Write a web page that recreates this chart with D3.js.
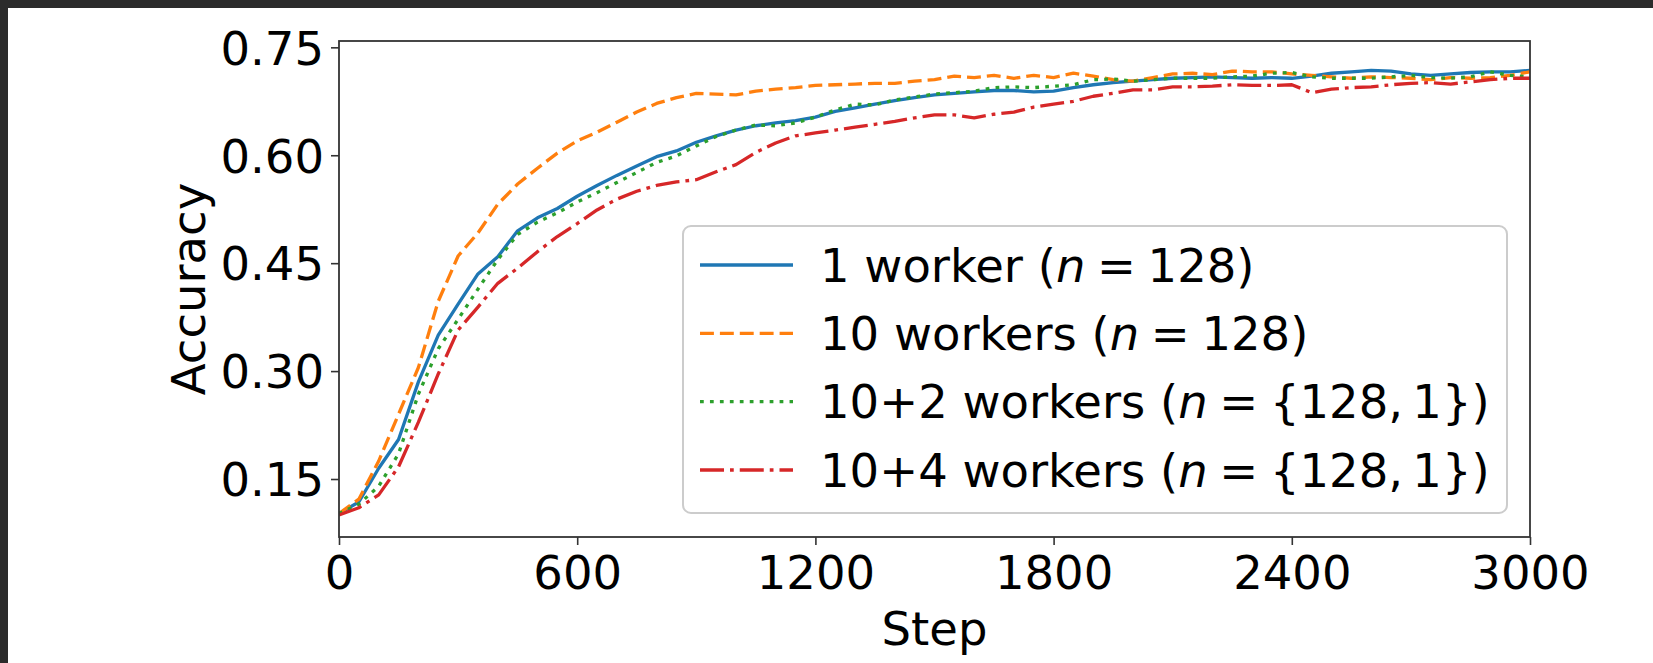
<!DOCTYPE html>
<html lang="en">
<head>
    <meta charset="UTF-8">
    <title>Accuracy vs Step</title>
    <script src="https://d3js.org/d3.v7.min.js"></script>
    <style>
        html, body { margin: 0; padding: 0; background: white; }
        svg text { font-family: "DejaVu Sans", sans-serif; fill: #000; }
        .axis .domain { stroke: none; }
        .axis line { stroke: #333; stroke-width: 1.6; }
    </style>
</head>
<body>
    <svg id="chart" width="1653" height="663"></svg>

    <script>
        // data ---------------------------------------------------------------
        const steps = [0, 50, 100, 150, 200, 250, 300, 350, 400, 450, 500, 550, 600, 650, 700, 750,
            800, 850, 900, 950, 1000, 1050, 1100, 1150, 1200, 1250, 1300, 1350, 1400, 1450, 1500,
            1550, 1600, 1650, 1700, 1750, 1800, 1850, 1900, 1950, 2000, 2050, 2100, 2150, 2200,
            2250, 2300, 2350, 2400, 2450, 2500, 2550, 2600, 2650, 2700, 2750, 2800, 2850, 2900,
            2950, 3000];

        const oneWorker = [0.102, 0.118, 0.165, 0.205, 0.285, 0.350, 0.393, 0.435, 0.459, 0.495,
            0.513, 0.526, 0.543, 0.558, 0.572, 0.585, 0.598, 0.606, 0.618, 0.627, 0.635, 0.641,
            0.645, 0.648, 0.653, 0.661, 0.666, 0.671, 0.676, 0.680, 0.684, 0.686, 0.688, 0.690,
            0.690, 0.688, 0.689, 0.694, 0.698, 0.701, 0.703, 0.705, 0.707, 0.708, 0.709, 0.708,
            0.707, 0.708, 0.707, 0.710, 0.714, 0.716, 0.718, 0.717, 0.713, 0.711, 0.713, 0.715,
            0.716, 0.716, 0.718];

        const tenWorkers = [0.102, 0.122, 0.175, 0.240, 0.305, 0.397, 0.460, 0.492, 0.532, 0.560,
            0.582, 0.603, 0.620, 0.632, 0.646, 0.660, 0.672, 0.680, 0.686, 0.685, 0.684, 0.689,
            0.692, 0.694, 0.697, 0.698, 0.699, 0.700, 0.700, 0.703, 0.705, 0.710, 0.708, 0.711,
            0.707, 0.711, 0.708, 0.714, 0.710, 0.705, 0.703, 0.708, 0.713, 0.714, 0.712, 0.717,
            0.716, 0.716, 0.713, 0.711, 0.709, 0.707, 0.709, 0.708, 0.707, 0.705, 0.708, 0.707,
            0.708, 0.711, 0.716];

        const tenPlusTwo = [0.102, 0.115, 0.140, 0.185, 0.268, 0.331, 0.372, 0.414, 0.455, 0.490,
            0.507, 0.520, 0.535, 0.548, 0.562, 0.576, 0.590, 0.599, 0.613, 0.626, 0.635, 0.642,
            0.641, 0.645, 0.653, 0.663, 0.671, 0.670, 0.677, 0.681, 0.685, 0.687, 0.689, 0.694,
            0.695, 0.694, 0.696, 0.698, 0.705, 0.706, 0.703, 0.705, 0.707, 0.707, 0.707, 0.709,
            0.710, 0.714, 0.715, 0.709, 0.707, 0.707, 0.707, 0.709, 0.711, 0.708, 0.707, 0.709,
            0.716, 0.711, 0.709];

        const tenPlusFour = [0.100, 0.110, 0.128, 0.167, 0.229, 0.296, 0.357, 0.389, 0.422, 0.443,
            0.466, 0.487, 0.505, 0.524, 0.539, 0.550, 0.558, 0.563, 0.566, 0.577, 0.587, 0.604,
            0.617, 0.627, 0.631, 0.635, 0.639, 0.643, 0.647, 0.652, 0.656, 0.656, 0.652, 0.657,
            0.660, 0.667, 0.671, 0.675, 0.682, 0.686, 0.691, 0.691, 0.695, 0.695, 0.696, 0.698,
            0.697, 0.697, 0.698, 0.687, 0.692, 0.694, 0.695, 0.698, 0.700, 0.701, 0.699, 0.702,
            0.705, 0.707, 0.707];

        const seriesLabels = ["1 worker (n\u2005=\u2005128)", "10 workers (n\u2005=\u2005128)",
            "10+2 workers (n\u2005=\u2005{128,\u20091})", "10+4 workers (n\u2005=\u2005{128,\u20091})"];

        const xTicks = [0, 600, 1200, 1800, 2400, 3000];
        const yTicks = [0.15, 0.30, 0.45, 0.60, 0.75];

        // look of each series ------------------------------------------------
        const colors = ["#1f77b4", "#ff7f0e", "#2ca02c", "#d62728"];
        const dashes = ["none", "13.9,6", "3.75,6.2", "24,6,3.75,6"];
        const allSeries = [oneWorker, tenWorkers, tenPlusTwo, tenPlusFour];

        // svg configuration ---------------------------------------------------
        const svg = d3.select("svg#chart");
        const width = +svg.attr("width");
        const height = +svg.attr("height");
        const plot = {left: 339, right: 1530, top: 41, bottom: 537};

        // dark frame of the screenshot
        svg.append("rect").attr("width", width).attr("height", height).attr("fill", "#2b2b2b");
        svg.append("rect").attr("x", 8).attr("y", 8)
            .attr("width", width - 8).attr("height", height - 8).attr("fill", "white");

        const xScale = d3.scaleLinear().domain([0, 3000]).range([plot.left, plot.right]);
        const yScale = d3.scaleLinear().domain([0.0694, 0.7588]).range([plot.bottom, plot.top]);

        // axes ---------------------------------------------------------------
        const fontSize = 46.5;

        svg.append("g")
            .attr("class", "axis")
            .attr("transform", `translate(${plot.left},0)`)
            .call(d3.axisLeft(yScale).tickValues(yTicks).tickFormat(d3.format(".2f"))
                .tickSize(8).tickPadding(7))
            .call(g => g.selectAll("text").attr("font-size", fontSize).attr("dy", "0.36em")
                .attr("font-family", "DejaVu Sans").attr("fill", "#000"));

        svg.append("g")
            .attr("class", "axis")
            .attr("transform", `translate(0,${plot.bottom})`)
            .call(d3.axisBottom(xScale).tickValues(xTicks).tickFormat(d3.format("d"))
                .tickSize(8).tickPadding(11))
            .call(g => g.selectAll("text").attr("font-size", fontSize)
                .attr("font-family", "DejaVu Sans").attr("fill", "#000"));

        svg.append("text")
            .attr("transform", `translate(205,${(plot.top + plot.bottom) / 2}) rotate(-90)`)
            .attr("text-anchor", "middle")
            .attr("font-size", fontSize)
            .text("Accuracy");

        svg.append("text")
            .attr("x", (plot.left + plot.right) / 2)
            .attr("y", 645)
            .attr("text-anchor", "middle")
            .attr("font-size", fontSize)
            .text("Step");

        // lines --------------------------------------------------------------
        svg.append("clipPath").attr("id", "clip")
            .append("rect")
            .attr("x", plot.left).attr("y", plot.top)
            .attr("width", plot.right - plot.left).attr("height", plot.bottom - plot.top);

        const lineGen = d3.line()
            .x((d, i) => xScale(steps[i]))
            .y(d => yScale(d));

        svg.append("g")
            .attr("clip-path", "url(#clip)")
            .selectAll("path")
            .data(allSeries)
            .join("path")
            .attr("fill", "none")
            .attr("stroke", (d, i) => colors[i])
            .attr("stroke-width", 3.3)
            .attr("stroke-dasharray", (d, i) => dashes[i])
            .attr("stroke-linejoin", "round")
            .attr("d", d => lineGen(d));

        // frame (spines)
        svg.append("rect")
            .attr("x", plot.left).attr("y", plot.top)
            .attr("width", plot.right - plot.left).attr("height", plot.bottom - plot.top)
            .attr("fill", "none")
            .attr("stroke", "#333")
            .attr("stroke-width", 1.8);

        // legend -------------------------------------------------------------
        const legend = svg.append("g").attr("class", "legend");
        legend.append("rect")
            .attr("x", 683).attr("y", 226)
            .attr("width", 1507 - 683).attr("height", 513 - 226)
            .attr("rx", 8).attr("ry", 8)
            .attr("fill", "white").attr("fill-opacity", 0.8)
            .attr("stroke", "#cccccc").attr("stroke-width", 2);

        const rowY = d3.scalePoint().domain(d3.range(seriesLabels.length)).range([265, 470]);

        const rows = legend.selectAll("g.row")
            .data(seriesLabels)
            .join("g")
            .attr("class", "row")
            .attr("transform", (d, i) => `translate(0,${rowY(i)})`);

        rows.append("line")
            .attr("x1", 700).attr("x2", 793)
            .attr("stroke", (d, i) => colors[i])
            .attr("stroke-width", 3.3)
            .attr("stroke-dasharray", (d, i) => dashes[i]);

        const labels = rows.append("text")
            .attr("x", 820)
            .attr("dy", "0.36em")
            .attr("font-size", fontSize);

        labels.each(function(d) {
            const parts = d.split("(n");
            const t = d3.select(this);
            t.append("tspan").text(parts[0] + "(");
            t.append("tspan").attr("font-style", "italic").text("n");
            t.append("tspan").text(parts[1]);
        });
    </script>
</body>
</html>
